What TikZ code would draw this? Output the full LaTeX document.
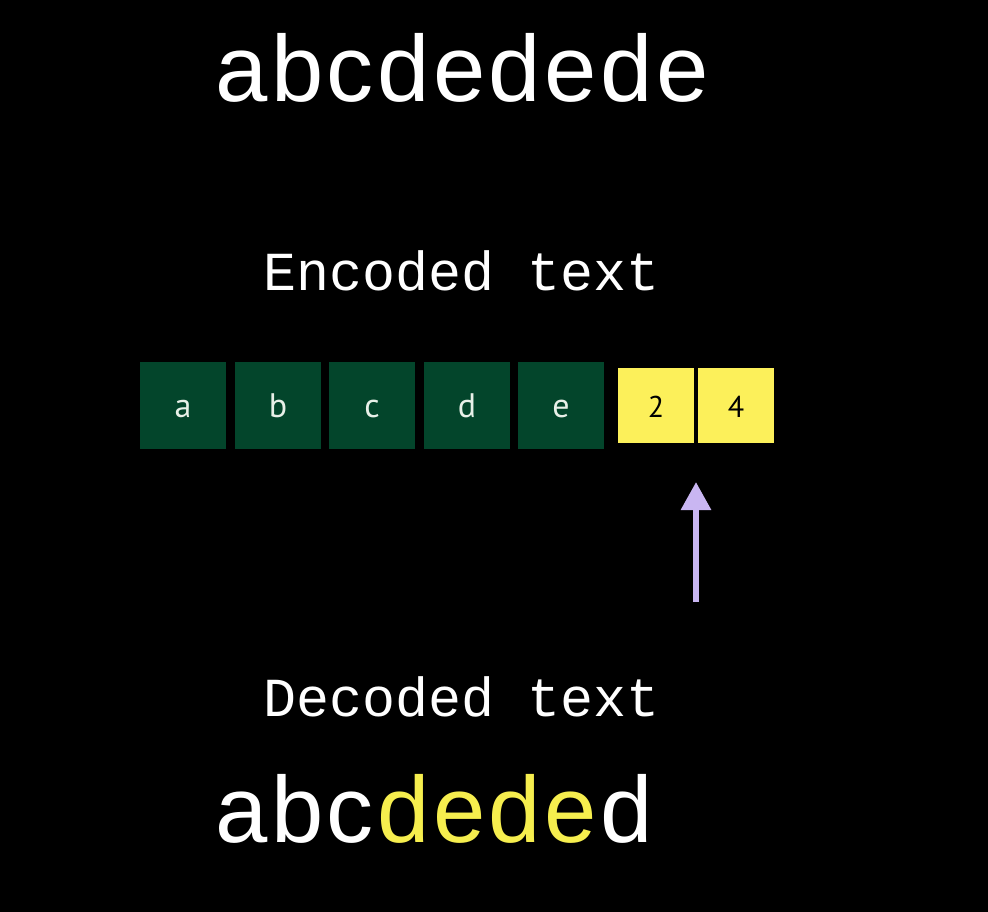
\documentclass[tikz,border=0pt]{standalone}
\usepackage{fontspec}
\usetikzlibrary{arrows.meta}
\newfontfamily\bigfont{Liberation Sans}
\newfontfamily\labfont{Liberation Mono}
\newfontfamily\cellfont{PT Sans}
\definecolor{cellgreen}{HTML}{03452B}
\definecolor{cellyellow}{HTML}{FCF05A}
\definecolor{hl}{HTML}{F6EE4E}
\definecolor{pointer}{HTML}{C9B6F2}
\definecolor{celltext}{HTML}{E8F0E8}
\newcommand{\tk}{\kern3.5pt}
\tikzset{
  bigtext/.style={inner sep=0pt, anchor=base, text=white, font=\bigfont\fontsize{94}{100}\selectfont},
  labeltext/.style={inner sep=0pt, anchor=base, text=white, font=\labfont\fontsize{55}{60}\selectfont},
  greencell/.style={fill=cellgreen, minimum width=86pt, minimum height=87pt, inner sep=0pt, text height=24pt, text depth=0pt, text=celltext, font=\cellfont\fontsize{34}{36}\selectfont},
  yellowcell/.style={fill=cellyellow, minimum width=76pt, minimum height=75pt, inner sep=0pt, text height=23pt, text depth=0pt, text=black, font=\cellfont\fontsize{30}{32}\selectfont},
  pointerarrow/.style={draw=pointer, line width=6pt, -{Triangle[width=29pt,length=28pt]}}
}
\begin{document}
\begin{tikzpicture}[x=1pt,y=-1pt]
\fill[black] (0,0) rectangle (988,912);
\useasboundingbox (0,0) rectangle (988,912);
\node[bigtext] (orig) at (462,102) {a\tk b\tk c\tk d\tk e\tk d\tk e\tk d\tk e};
\node[labeltext] (enclab) at (461.5,290) {Encoded text};
\node[greencell] (ca) at (183,405.5) {a};
\node[greencell] (cb) at (278,405.5) {b};
\node[greencell] (cc) at (372,405.5) {c};
\node[greencell] (cd) at (467,405.5) {d};
\node[greencell] (ce) at (561,405.5) {e};
\node[yellowcell] (c2) at (656,405.5) {2};
\node[yellowcell] (c4) at (736,405.5) {4};
\coordinate (arrowtail) at (696,602);
\coordinate (arrowtip) at (696,482);
\draw[pointerarrow] (arrowtail) -- (arrowtip);
\node[labeltext] (declab) at (461.5,716) {Decoded text};
\node[bigtext] (dec) at (434,842) {a\tk b\tk c\tk\textcolor{hl}{d\tk e\tk d\tk e}\tk d};
\end{tikzpicture}
\end{document}
